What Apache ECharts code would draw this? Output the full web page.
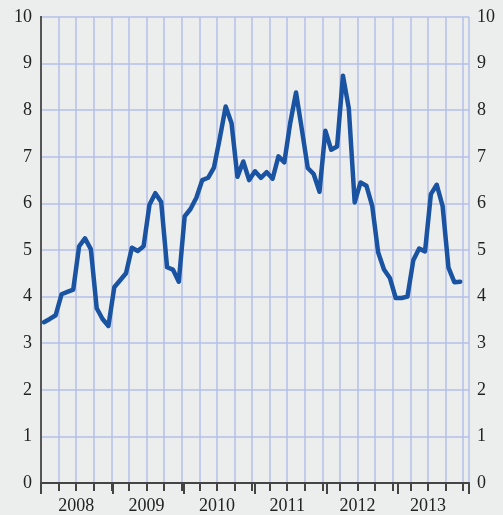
<!DOCTYPE html>
<html>
<head>
<meta charset="utf-8">
<script src="https://cdn.jsdelivr.net/npm/echarts@6/dist/echarts.min.js"></script>
<style>
  html, body { margin: 0; padding: 0; background: #eceeed; }
  #chart { width: 503px; height: 515px; }
</style>
</head>
<body>
<div id="chart"></div>
<script>
// years on the x axis, one label in the middle of each year
const years = ['2008', '2009', '2010', '2011', '2012', '2013'];

// monthly values, Jan 2008 .. Dec 2013
const values2008 = [3.45, 3.52, 3.6, 4.05, 4.1, 4.15, 5.08, 5.25, 5.02, 3.75, 3.52, 3.37];
const values2009 = [4.2, 4.35, 4.5, 5.05, 4.98, 5.08, 5.97, 6.22, 6.03, 4.63, 4.58, 4.32];
const values2010 = [5.72, 5.88, 6.12, 6.5, 6.55, 6.77, 7.4, 8.08, 7.72, 6.57, 6.9, 6.5];
const values2011 = [6.69, 6.55, 6.67, 6.53, 7.01, 6.88, 7.72, 8.38, 7.58, 6.76, 6.63, 6.25];
const values2012 = [7.56, 7.15, 7.22, 8.74, 8.04, 6.02, 6.45, 6.38, 5.94, 4.95, 4.58, 4.4];
const values2013 = [3.97, 3.97, 4.0, 4.78, 5.03, 4.97, 6.2, 6.4, 5.94, 4.62, 4.31, 4.32];

const values = [].concat(values2008, values2009, values2010, values2011, values2012, values2013);

const chart = echarts.init(document.getElementById('chart'));

const labelFont = { fontFamily: 'Liberation Serif', fontSize: 18, color: '#222' };
const gridColor = '#b5bfe9';

const option = {
  backgroundColor: '#eceeed',
  animation: false,
  grid: { left: 41, right: 34, top: 17, bottom: 31 },
  xAxis: [
    {
      type: 'value',
      min: 0,
      max: 73,
      interval: 3,
      axisLine: { show: true, onZero: false, lineStyle: { color: '#444', width: 2 } },
      axisTick: { show: true, length: 8, lineStyle: { color: '#444', width: 2 } },
      splitLine: { show: true, lineStyle: { color: gridColor, width: 1.5 } },
      axisLabel: {
        show: true,
        margin: 14,
        ...labelFont,
        formatter: function (v) {
          if (v % 12 === 6) return years[(v - 6) / 12];
          return '';
        }
      }
    },
    {
      // longer ticks at the start of every year
      type: 'value',
      position: 'bottom',
      min: 0,
      max: 72,
      interval: 12,
      axisLine: { show: false },
      axisTick: { show: true, length: 11, lineStyle: { color: '#444', width: 2 } },
      splitLine: { show: false },
      axisLabel: { show: false }
    }
  ],
  yAxis: [
    {
      type: 'value',
      min: 0,
      max: 10,
      interval: 1,
      position: 'left',
      axisLine: { show: true, lineStyle: { color: '#555', width: 2 } },
      axisTick: { show: false },
      splitLine: { show: true, lineStyle: { color: gridColor, width: 1.5 } },
      axisLabel: { margin: 9, ...labelFont }
    },
    {
      type: 'value',
      min: 0,
      max: 10,
      interval: 1,
      position: 'right',
      axisLine: { show: true, lineStyle: { color: '#555', width: 2 } },
      axisTick: { show: false },
      splitLine: { show: false },
      axisLabel: { margin: 8, ...labelFont }
    }
  ],
  series: [
    {
      type: 'line',
      xAxisIndex: 0,
      yAxisIndex: 0,
      data: values.map(function (v, i) { return [i + 0.5, v]; }),
      showSymbol: false,
      lineStyle: { color: '#1a53a2', width: 4.5, join: 'round', cap: 'round' },
      z: 5
    }
  ]
};

chart.setOption(option);
</script>
</body>
</html>
